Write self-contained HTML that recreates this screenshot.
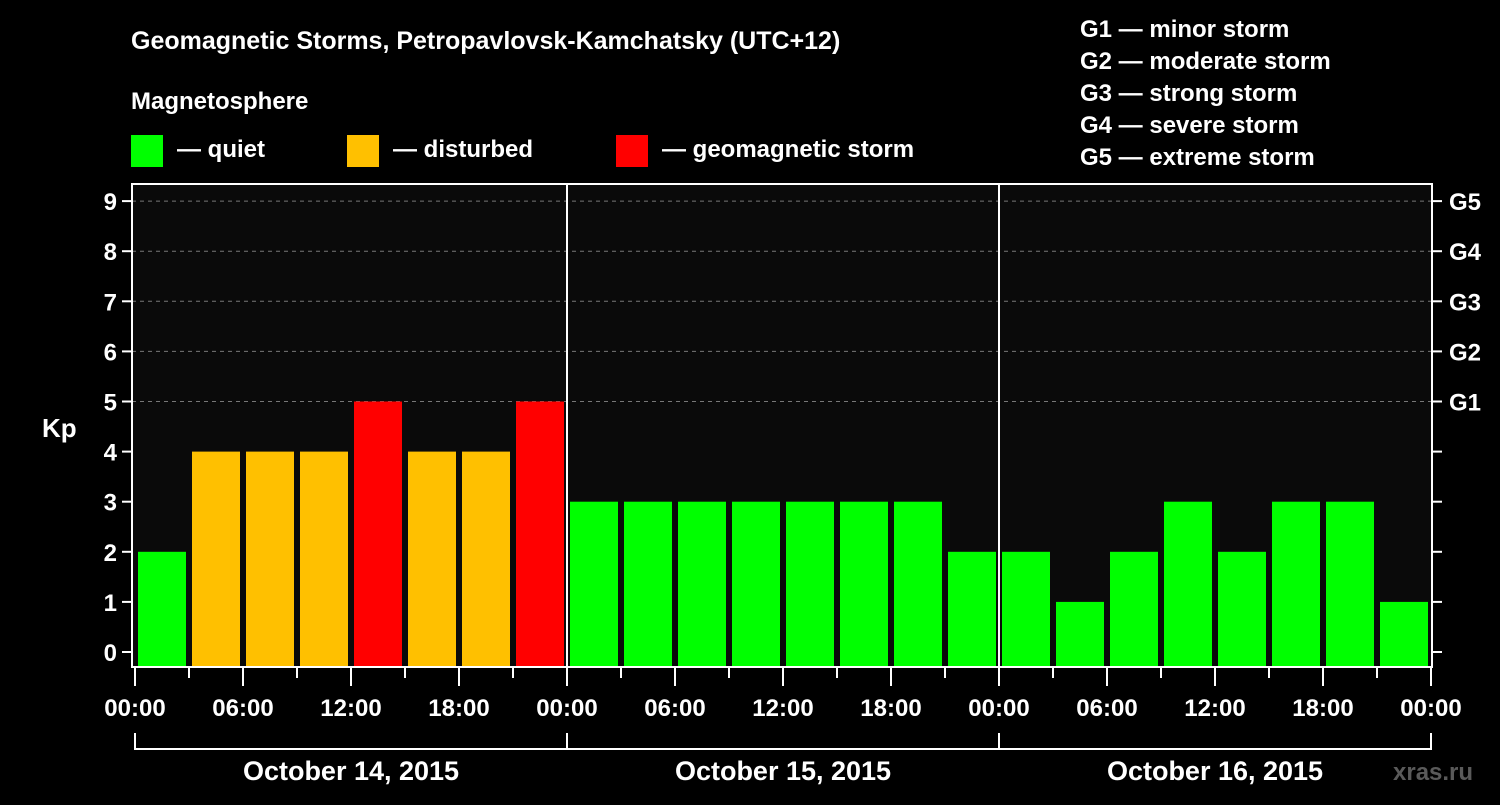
<!DOCTYPE html>
<html><head><meta charset="utf-8"><style>
body{margin:0;background:#000;width:1500px;height:800px;overflow:hidden}
svg text{font-family:"Liberation Sans",Arial,sans-serif;font-weight:bold;fill:#fff}
</style></head><body>
<svg id="c" width="1500" height="800" xmlns="http://www.w3.org/2000/svg">
<rect x="0" y="0" width="1500" height="800" fill="#000"/>
<text x="131" y="49" font-size="25">Geomagnetic Storms, Petropavlovsk-Kamchatsky (UTC+12)</text>
<text x="131" y="109" font-size="24">Magnetosphere</text>
<g><rect x="131" y="135" width="32" height="32" fill="#00ff00"/><text x="177" y="157" font-size="24">— quiet</text></g>
<g><rect x="347" y="135" width="32" height="32" fill="#ffc000"/><text x="393" y="157" font-size="24">— disturbed</text></g>
<g><rect x="616" y="135" width="32" height="32" fill="#ff0000"/><text x="662" y="157" font-size="24">— geomagnetic storm</text></g>
<g font-size="24">
<text x="1080" y="37">G1 — minor storm</text>
<text x="1080" y="69">G2 — moderate storm</text>
<text x="1080" y="101">G3 — strong storm</text>
<text x="1080" y="133">G4 — severe storm</text>
<text x="1080" y="165">G5 — extreme storm</text>
</g>
<rect x="132" y="184" width="1300" height="483" fill="#0a0a0a"/>
<g id="grid"></g><g id="bars"></g><g id="axes"></g>
<text x="42" y="437" font-size="26">Kp</text>
<text x="1393" y="780" font-size="24" fill="#555" style="fill:#5a5a5a">xras.ru</text>
</svg>
<script>
const kpValues=[2,4,4,4,5,4,4,5, 3,3,3,3,3,3,3,2, 2,1,2,3,2,3,3,1];
const yTicks=[0,1,2,3,4,5,6,7,8,9];
const gLabels=["G1","G2","G3","G4","G5"];
const xTickLabels=["00:00","06:00","12:00","18:00","00:00","06:00","12:00","18:00","00:00","06:00","12:00","18:00","00:00"];
const dayLabels=["October 14, 2015","October 15, 2015","October 16, 2015"];
const NS="http://www.w3.org/2000/svg";
const X0=135,SLOT=54,Y0=652,YU=50.1,BOT=667;
const xs=i=>X0+i*SLOT, ys=v=>Y0-v*YU;
function mk(p,t,a){const e=document.createElementNS(NS,t);for(const k in a)e.setAttribute(k,a[k]);p.appendChild(e);return e;}
function col(v){return v>=5?"#ff0000":v>=4?"#ffc000":"#00ff00";}
const grid=document.getElementById('grid'),bars=document.getElementById('bars'),ax=document.getElementById('axes');
for(let v=5;v<=9;v++){const l=mk(grid,'line',{x1:132,x2:1432,y1:ys(v),y2:ys(v),stroke:'#777','stroke-dasharray':'4,4','stroke-width':1});

}
kpValues.forEach((v,i)=>{const r=mk(bars,'rect',{x:xs(i)+3,y:ys(v),width:48,height:BOT-ys(v),fill:col(v)});

});
const fr=mk(ax,'rect',{x:132,y:184,width:1300,height:483,fill:'none',stroke:'#fff','stroke-width':2});


for(let d=1;d<3;d++){const l=mk(ax,'line',{x1:xs(d*8),x2:xs(d*8),y1:184,y2:667,stroke:'#fff','stroke-width':2});

}
yTicks.forEach(v=>{mk(ax,'line',{x1:122,x2:132,y1:ys(v),y2:ys(v),stroke:'#fff','stroke-width':2});
mk(ax,'line',{x1:1432,x2:1442,y1:ys(v),y2:ys(v),stroke:'#fff','stroke-width':2});
const t=mk(ax,'text',{x:117,y:ys(v)+9,'font-size':24,'text-anchor':'end'});t.textContent=v;

});
gLabels.forEach((g,i)=>{const t=mk(ax,'text',{x:1449,y:ys(5+i)+9,'font-size':24});t.textContent=g;

});
for(let i=0;i<=24;i++){const maj=i%2==0;mk(ax,'line',{x1:xs(i),x2:xs(i),y1:667,y2:maj?686:678,stroke:'#fff','stroke-width':2});}
xTickLabels.forEach((s,i)=>{const t=mk(ax,'text',{x:xs(i*2),y:716,'font-size':24,'text-anchor':'middle'});t.textContent=s;

});
mk(ax,'path',{d:`M${xs(0)},733V749H${xs(24)}V733M${xs(8)},733V749M${xs(16)},733V749`,stroke:'#fff','stroke-width':2,fill:'none'});
dayLabels.forEach((s,i)=>{const t=mk(ax,'text',{x:xs(i*8+4),y:780,'font-size':27,'text-anchor':'middle'});t.textContent=s;

});
</script>
</body></html>
